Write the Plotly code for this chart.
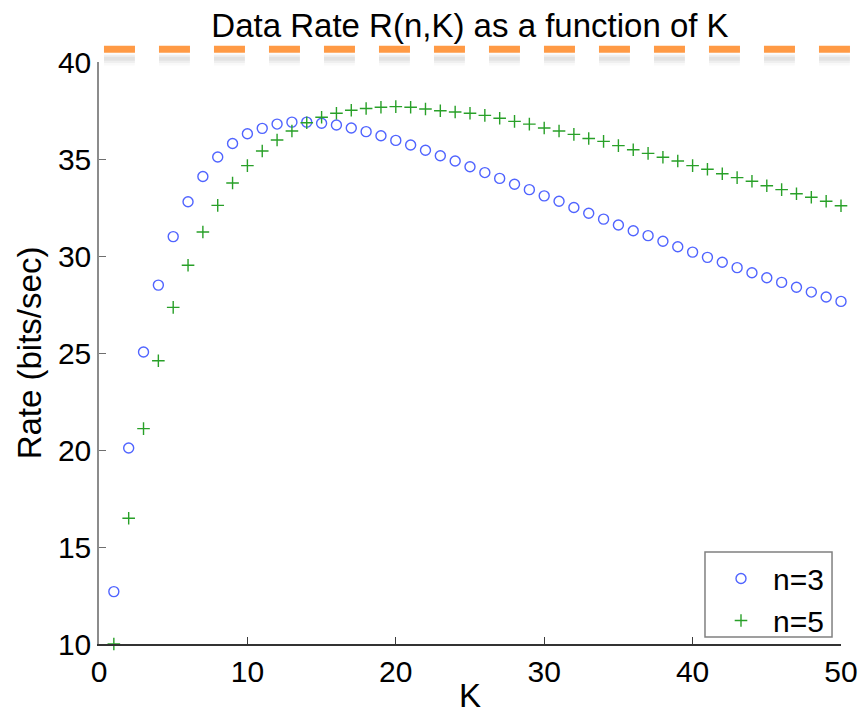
import plotly.graph_objects as go

K = list(range(1, 51))
rate_n3 = [12.7, 20.1, 25.05, 28.5, 31.0, 32.8, 34.1, 35.1, 35.8, 36.3,
           36.58, 36.8, 36.9, 36.9, 36.84, 36.75, 36.6, 36.41, 36.2, 35.96,
           35.72, 35.45, 35.17, 34.9, 34.6, 34.3, 34.0, 33.7, 33.42, 33.1,
           32.82, 32.5, 32.2, 31.9, 31.6, 31.3, 31.05, 30.76, 30.48, 30.2,
           29.93, 29.68, 29.4, 29.14, 28.88, 28.64, 28.39, 28.14, 27.89, 27.66]
rate_n5 = [10.0, 16.48, 21.1, 24.6, 27.35, 29.52, 31.24, 32.61, 33.76, 34.66,
           35.41, 35.98, 36.44, 36.87, 37.15, 37.36, 37.51, 37.6, 37.67, 37.7,
           37.67, 37.58, 37.49, 37.42, 37.36, 37.25, 37.1, 36.94, 36.8, 36.6,
           36.44, 36.27, 36.06, 35.91, 35.69, 35.48, 35.29, 35.09, 34.9, 34.66,
           34.47, 34.24, 34.04, 33.85, 33.62, 33.42, 33.21, 33.03, 32.82, 32.59]
x_ticks = [0, 10, 20, 30, 40, 50]
y_ticks = [10, 15, 20, 25, 30, 35, 40]

FONT = "Liberation Sans, Arial, Helvetica, sans-serif"

fig = go.Figure()
fig.add_trace(go.Scatter(
    x=K, y=rate_n3, mode="markers", name="n=3", cliponaxis=False,
    marker=dict(symbol="circle-open", size=10, color="rgb(80,100,255)",
                line=dict(width=1.4, color="rgb(80,100,255)"))))
fig.add_trace(go.Scatter(
    x=K, y=rate_n5, mode="markers", name="n=5", cliponaxis=False,
    marker=dict(symbol="cross-thin-open", size=9, color="rgb(40,160,40)",
                line=dict(width=1.4, color="rgb(40,160,40)"))))

# dashed orange decoration with soft shadow above the plot area
dash = "31px,24px"
for w, c, yy in [(12, "rgba(0,0,0,0.025)", 1.0045), (8, "rgba(0,0,0,0.04)", 1.005),
                 (4, "rgba(0,0,0,0.05)", 1.0055)]:
    fig.add_shape(type="line", xref="paper", yref="paper",
                  x0=0.0067, x1=1.0175, y0=yy, y1=yy,
                  line=dict(color=c, width=w, dash=dash))
fig.add_shape(type="line", xref="paper", yref="paper",
              x0=0.0067, x1=1.0175, y0=1.0218, y1=1.0218,
              line=dict(color="rgb(255,154,69)", width=7, dash=dash))

# legend frame
fig.add_shape(type="rect", xref="paper", yref="paper",
              x0=0.8167, x1=0.9879, y0=0.012, y1=0.158,
              fillcolor="white", line=dict(color="rgb(128,128,128)", width=1.5),
              layer="above")

fig.update_layout(
    width=861, height=714,
    margin=dict(l=99, r=20, t=62, b=70, autoexpand=False),
    paper_bgcolor="white", plot_bgcolor="white",
    font=dict(family=FONT, color="black", size=30),
    title=dict(text="Data Rate R(n,K) as a function of K",
               font=dict(family=FONT, size=33, color="black"),
               x=0.5, xref="paper", xanchor="center",
               y=1 - 25 / 714, yref="container", yanchor="middle"),
    showlegend=True,
    legend=dict(x=0.8221, xanchor="left", y=0.1572, yanchor="top",
                bgcolor="rgba(0,0,0,0)", borderwidth=0,
                font=dict(family=FONT, size=30, color="black"),
                itemwidth=54, tracegroupgap=0),
)
fig.update_xaxes(
    range=[0, 50], tickvals=x_ticks, ticks="inside", ticklen=7, tickwidth=1,
    tickcolor="rgb(60,60,60)", showline=True, linecolor="rgb(50,50,50)", linewidth=1.5,
    showgrid=False, zeroline=False, mirror=False, automargin=False,
    tickfont=dict(family=FONT, size=30, color="black"),
    title=dict(text="K", font=dict(family=FONT, size=33, color="black"), standoff=8),
)
fig.update_yaxes(
    range=[10, 40], tickvals=y_ticks, ticks="inside", ticklen=7, tickwidth=1,
    tickcolor="rgb(110,110,110)", showline=True, linecolor="rgb(140,140,140)", linewidth=1.5,
    showgrid=False, zeroline=False, mirror=False, automargin=False,
    tickfont=dict(family=FONT, size=30, color="black"),
    title=dict(text="Rate (bits/sec)", font=dict(family=FONT, size=33, color="black"), standoff=6),
)

fig.write_html(
    "out.html",
    config={"displayModeBar": False},
    post_script="document.body.style.margin='0';document.body.style.overflow='hidden';",
)
